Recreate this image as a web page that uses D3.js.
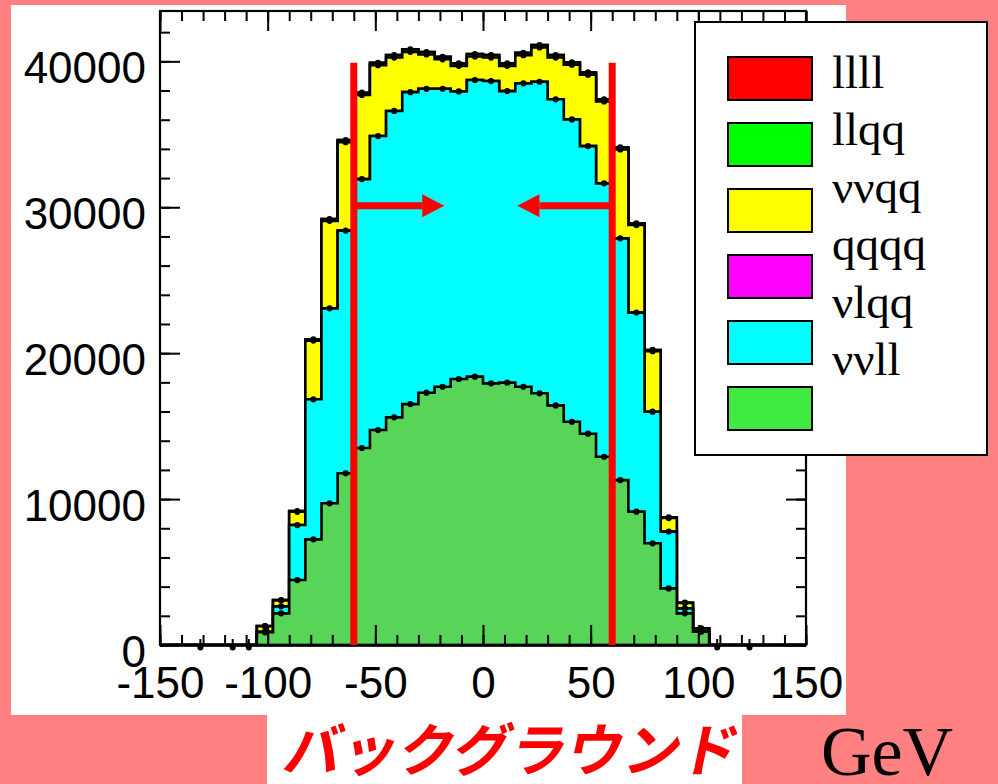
<!DOCTYPE html>
<html>
<head>
<meta charset="utf-8">
<script src="https://cdn.jsdelivr.net/npm/d3@7"></script>
<style>
  html, body { margin: 0; padding: 0; background: #ff8080; }
  svg { display: block; }
</style>
</head>
<body>
<svg id="chart" width="998" height="784"></svg>
<script>
// Missing-energy-like distribution, 40 bins of 7.5 GeV from -150 to 150, stacked by process
const xDomain = [-150, 150];
const binWidth = 7.5;
const yMax = 43450;

const xTicks = [-150, -100, -50, 0, 50, 100, 150];
const xTickLabels = ["-150", "-100", "-50", "0", "50", "100", "150"];
const yTicks = [0, 10000, 20000, 30000, 40000];
const yTickLabels = ["0", "10000", "20000", "30000", "40000"];

// per-bin event counts (stack order: bottom to top)
const vvll = [0,0,0,0,0,0, 870,2170,4450,7240,9710,11770,13500,14730,15600,16510,17290,17700,18230,18390,17930,17980,17700,17250,16420,15300,14480,12900,11300,9140,6970,3880,2170,910, 0,0,0,0,0,0];
const vlqq = [0,0,0,0,0,0, 40,480,3770,9600,13360,16630,18430,20150,21000,21380,20830,20420,19710,20330,20720,19980,20790,21350,20980,20720,19710,18740,16570,13640,9020,3890,340,40, 0,0,0,0,0,0];
const qqqq = [0,0,0,0,0,0, 0,0,0,0,0,0,0,0,0,0,0,0,0,0,0,0,0,0,0,0,0,0,0,0,0,0,0,0, 0,0,0,0,0,0];
const vvqq = [0,0,0,0,0,0, 380,410,910,4020,6000,6060,5770,4860,3660,2760,2350,2020,1750,1610,1610,1730,1930,2350,2860,3750,4890,5610,6090,6000,4140,930,370,180, 0,0,0,0,0,0];
const llqq = [0,0,0,0,0,0, 10,20,50,90,120,140,150,160,170,170,170,170,170,170,170,170,170,170,170,160,160,150,140,120,90,50,20,10, 0,0,0,0,0,0];
const llll = [0,0,0,0,0,0, 0,0,0,0,0,0,0,0,0,0,0,0,0,0,0,0,0,0,0,0,0,0,0,0,0,0,0,0, 0,0,0,0,0,0];

// bins whose entries sit at zero but still carry a marker
const zeroMarkerBins = [2, 4, 5, 34, 36];

// selection window and arrows
const cutValue = 60;
const cutTopValue = 39900;
const arrowLevel = 30100;
const arrowTips = [-18, 16];

const stackNames = ["vvll", "vlqq", "qqqq", "vvqq", "llqq", "llll"];
const stackSeries = [vvll, vlqq, qqqq, vvqq, llqq, llll];
const stackColors = ["#58d558", "#00ffff", "#ff00ff", "#ffff00", "#00ff00", "#ff0000"];

const legendLabels = ["llll", "llqq", "\u03bd\u03bdqq", "qqqq", "\u03bdlqq", "\u03bd\u03bdll"];
const legendColors = ["#ff0000", "#00ff00", "#ffff00", "#ff00ff", "#00ffff", "#40ea40"];

const svg = d3.select("#chart");

// page panels
svg.append("rect").attr("x", 0).attr("y", 0).attr("width", 998).attr("height", 784).attr("fill", "#ff8080");
svg.append("rect").attr("x", 11).attr("y", 5).attr("width", 835).attr("height", 710).attr("fill", "#ffffff");
svg.append("rect").attr("x", 267).attr("y", 714).attr("width", 475).attr("height", 70).attr("fill", "#ffffff");

const x = d3.scaleLinear().domain(xDomain).range([160, 806]);
const y = d3.scaleLinear().domain([0, yMax]).range([645, 11]);

const nBins = vvll.length;
const edges = d3.range(nBins + 1).map(i => xDomain[0] + i * binWidth);

// cumulative stack levels
const cumulative = [];
stackSeries.forEach((s, li) => {
  cumulative.push(s.map((v, i) => v + (li > 0 ? cumulative[li - 1][i] : 0)));
});

const area = d3.area()
  .x(d => x(d.x))
  .y0(y(0))
  .y1(d => y(d.v))
  .curve(d3.curveStepAfter);

const histG = svg.append("g");
// draw from the top of the stack down so lower layers overlay
for (let li = cumulative.length - 1; li >= 0; li--) {
  const cum = cumulative[li];
  const pts = cum.map((v, i) => ({ x: edges[i], v }));
  pts.push({ x: edges[nBins], v: cum[nBins - 1] });
  histG.append("path")
    .attr("d", area(pts))
    .attr("fill", stackColors[li])
    .attr("stroke", "#000")
    .attr("stroke-width", 2.6)
    .attr("stroke-linejoin", "miter");
}

// markers at bin centres on every stack level
const markG = svg.append("g");
cumulative.forEach((cum, li) => {
  cum.forEach((v, i) => {
    if (stackSeries[li][i] > 0 || (li === 0 && v > 0)) {
      markG.append("circle")
        .attr("cx", x(edges[i] + binWidth / 2))
        .attr("cy", y(v))
        .attr("r", 3.1)
        .attr("fill", "#000");
    }
  });
});
zeroMarkerBins.forEach(i => {
  const cx = x(edges[i] + binWidth / 2);
  markG.append("circle").attr("cx", cx).attr("cy", y(0) + 2.5).attr("r", 3).attr("fill", "#000");
  markG.append("line").attr("x1", cx).attr("x2", cx).attr("y1", y(0) - 6).attr("y2", y(0) + 5)
    .attr("stroke", "#000").attr("stroke-width", 2);
});

// frame and axes
const minorX = d3.range(-150, 150.1, 10);
const minorY = d3.range(0, yMax, 2000);

function styleAxis(g) {
  g.select(".domain").remove();
  g.selectAll(".tick line").attr("stroke", "#000").attr("stroke-width", 2);
}

svg.append("g").attr("transform", `translate(0,${y(0)})`)
  .call(d3.axisBottom(x).tickValues(minorX).tickSize(-10).tickFormat(""))
  .call(styleAxis);
svg.append("g").attr("transform", `translate(0,${y(0)})`)
  .call(d3.axisBottom(x).tickValues(xTicks).tickSize(-20).tickPadding(22)
    .tickFormat((d, i) => xTickLabels[i]))
  .call(styleAxis)
  .call(g => g.selectAll("text")
    .attr("font-family", "'Liberation Sans', Arial, sans-serif")
    .attr("font-size", 44).attr("fill", "#000"));

svg.append("g").attr("transform", `translate(0,${y(yMax)})`)
  .call(d3.axisTop(x).tickValues(minorX).tickSize(-10).tickFormat(""))
  .call(styleAxis);
svg.append("g").attr("transform", `translate(0,${y(yMax)})`)
  .call(d3.axisTop(x).tickValues(xTicks).tickSize(-20).tickFormat(""))
  .call(styleAxis);

svg.append("g").attr("transform", `translate(${x(xDomain[0])},0)`)
  .call(d3.axisLeft(y).tickValues(minorY).tickSize(-10).tickFormat(""))
  .call(styleAxis);
svg.append("g").attr("transform", `translate(${x(xDomain[0])},0)`)
  .call(d3.axisLeft(y).tickValues(yTicks).tickSize(-20).tickPadding(14)
    .tickFormat((d, i) => yTickLabels[i]))
  .call(styleAxis)
  .call(g => g.selectAll("text")
    .attr("dy", "0.48em")
    .attr("font-family", "'Liberation Sans', Arial, sans-serif")
    .attr("font-size", 44).attr("fill", "#000"));

svg.append("g").attr("transform", `translate(${x(xDomain[1])},0)`)
  .call(d3.axisRight(y).tickValues(minorY).tickSize(-10).tickFormat(""))
  .call(styleAxis);
svg.append("g").attr("transform", `translate(${x(xDomain[1])},0)`)
  .call(d3.axisRight(y).tickValues(yTicks).tickSize(-20).tickFormat(""))
  .call(styleAxis);

svg.append("rect")
  .attr("x", x(xDomain[0])).attr("y", y(yMax))
  .attr("width", x(xDomain[1]) - x(xDomain[0]))
  .attr("height", y(0) - y(yMax))
  .attr("fill", "none").attr("stroke", "#000").attr("stroke-width", 2.2);

// selection cut lines with arrows pointing inwards
const cutG = svg.append("g");
[-cutValue, cutValue].forEach((c, k) => {
  cutG.append("line")
    .attr("x1", x(c)).attr("x2", x(c))
    .attr("y1", y(cutTopValue)).attr("y2", y(0))
    .attr("stroke", "#ff0000").attr("stroke-width", 7);
  const tip = x(arrowTips[k]);
  const dir = tip > x(c) ? 1 : -1;
  const headLen = 22, headHalf = 11.5;
  const ay = y(arrowLevel);
  cutG.append("line")
    .attr("x1", x(c)).attr("x2", tip - dir * headLen)
    .attr("y1", ay).attr("y2", ay)
    .attr("stroke", "#ff0000").attr("stroke-width", 7);
  cutG.append("path")
    .attr("d", `M${tip},${ay} L${tip - dir * headLen},${ay - headHalf} L${tip - dir * headLen},${ay + headHalf} Z`)
    .attr("fill", "#ff0000");
});

// legend
const leg = svg.append("g");
leg.append("rect").attr("x", 695).attr("y", 22).attr("width", 292).attr("height", 433)
  .attr("fill", "#fff").attr("stroke", "#000").attr("stroke-width", 2);
legendColors.forEach((c, i) => {
  leg.append("rect")
    .attr("x", 728).attr("y", 57 + i * 66).attr("width", 84).attr("height", 43)
    .attr("fill", c).attr("stroke", "#000").attr("stroke-width", 2);
});
legendLabels.forEach((t, i) => {
  leg.append("text")
    .attr("x", 832).attr("y", 88 + i * 57.4)
    .attr("font-family", "'Liberation Serif', 'Times New Roman', serif")
    .attr("font-size", 47).attr("fill", "#000")
    .text(t);
});

// titles below the frame
svg.append("text")
  .attr("transform", "translate(508,771) skewX(-12)")
  .attr("text-anchor", "middle")
  .attr("font-family", "'Noto Sans CJK JP', sans-serif")
  .attr("font-weight", "bold")
  .attr("font-size", 57)
  .attr("fill", "#ff0000")
  .text("バックグラウンド");

svg.append("text")
  .attr("x", 821).attr("y", 775)
  .attr("font-family", "'Liberation Serif', 'Times New Roman', serif")
  .attr("font-size", 70).attr("fill", "#000")
  .text("GeV");
</script>
</body>
</html>
